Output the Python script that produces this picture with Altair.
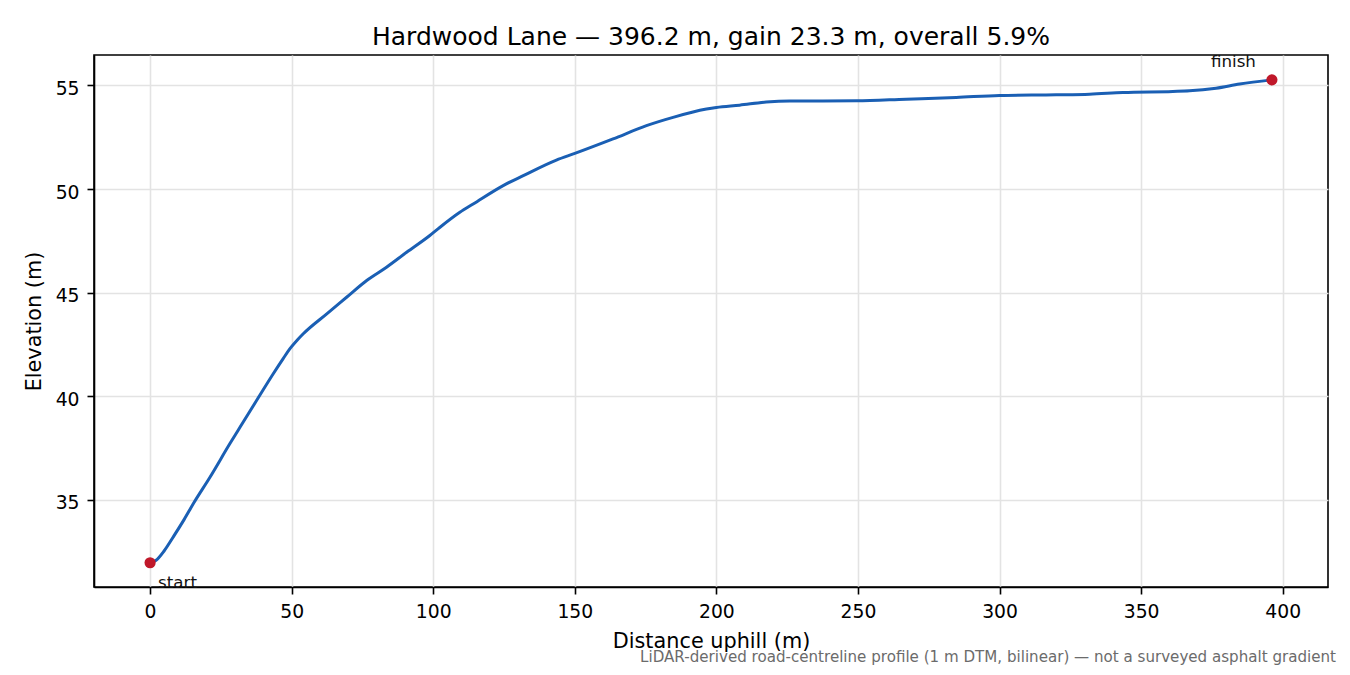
import altair as alt
import pandas as pd

# profile samples (distance m, elevation m)
dist_m = [0, 2, 5, 8.2, 12, 15.3, 21.2, 28.2, 31.8, 37.6, 43.5, 47, 49.4, 52, 54.1,
          62.4, 69.4, 76.5, 83.5, 90.6, 98.8, 102.4, 109.4, 114.1, 124.7, 131.8,
          143.5, 150, 163.5, 175.3, 184.7, 196.5, 200, 208.2, 217.6, 225.9, 237.6,
          249.4, 267, 284.7, 300, 320, 331.8, 343.6, 361.2, 367.1, 376.5, 384.8,
          396.2]
elev_m = [31.97, 32.08, 32.55, 33.22, 34.05, 34.83, 36.11, 37.72, 38.52, 39.8,
          41.09, 41.82, 42.3, 42.72, 43.02, 43.98, 44.78, 45.59, 46.23, 46.95,
          47.76, 48.16, 48.88, 49.28, 50.17, 50.65, 51.4, 51.72, 52.42, 53.06,
          53.46, 53.86, 53.94, 54.05, 54.2, 54.25, 54.25, 54.26, 54.34, 54.42,
          54.52, 54.55, 54.58, 54.66, 54.71, 54.74, 54.87, 55.07, 55.27]

end_dist = [0, 396.2]
end_elev = [31.97, 55.27]
end_label = ["start", "finish"]

x_ticks = [0, 50, 100, 150, 200, 250, 300, 350, 400]
y_ticks = [35, 40, 45, 50, 55]

title = "Hardwood Lane \u2014 396.2 m, gain 23.3 m, overall 5.9%"
note = ("LiDAR-derived road-centreline profile (1 m DTM, bilinear) \u2014 "
        "not a surveyed asphalt gradient")

FONT = "DejaVu Sans"
W, H = 1234, 532

profile = pd.DataFrame({"dist": dist_m, "elev": elev_m})
ends = pd.DataFrame({"dist": end_dist, "elev": end_elev, "label": end_label})

x_enc = alt.X("dist:Q", title="Distance uphill (m)",
              scale=alt.Scale(domain=[-19.81, 416.01], nice=False, zero=False),
              axis=alt.Axis(values=x_ticks, titleY=60, titleBaseline="alphabetic"))
y_enc = alt.Y("elev:Q", title="Elevation (m)",
              scale=alt.Scale(domain=[30.80, 56.47], nice=False, zero=False),
              axis=alt.Axis(values=y_ticks, labelOffset=3, titleX=-54,
                            titleY=H / 2, titleAngle=270,
                            titleBaseline="alphabetic", titleAlign="center"))

line = alt.Chart(profile).mark_line(
    color="#1a5fb4", strokeWidth=3, interpolate="monotone"
).encode(x=x_enc, y=y_enc)

dots = alt.Chart(ends).mark_circle(color="#c0182a", size=125, opacity=1).encode(
    x="dist:Q", y="elev:Q"
)

start_txt = alt.Chart(ends).transform_filter(alt.datum.label == "start").mark_text(
    align="left", baseline="alphabetic", dx=8, dy=25, font=FONT, fontSize=16.7,
    color="#111"
).encode(x="dist:Q", y="elev:Q", text="label:N")

finish_txt = alt.Chart(ends).transform_filter(alt.datum.label == "finish").mark_text(
    align="right", baseline="alphabetic", dx=-16, dy=-12.5, font=FONT, fontSize=16.7,
    color="#111"
).encode(x="dist:Q", y="elev:Q", text="label:N")

footnote = alt.Chart(pd.DataFrame({"note": [note]})).mark_text(
    align="right", baseline="alphabetic", font=FONT, fontSize=15.1, color="#6b6b6b"
).encode(x=alt.value(W + 8), y=alt.value(H + 75), text="note:N")

chart = (line + dots + start_txt + finish_txt + footnote).properties(
    width=W, height=H,
    title=alt.TitleParams(title, anchor="middle", font=FONT, fontSize=25,
                          fontWeight="normal", color="#000", baseline="alphabetic",
                          offset=-16),
    autosize=alt.AutoSizeParams(type="none"),
    padding={"left": 86, "top": 47, "right": 14, "bottom": 80},
).configure(
    font=FONT
).configure_view(
    stroke="#000", strokeWidth=1.6
).configure_axis(
    labelFont=FONT, titleFont=FONT,
    labelFontSize=18.75, titleFontSize=20.8, titleFontWeight="normal",
    labelColor="#000", titleColor="#000",
    domainColor="#000", domainWidth=1.6,
    tickColor="#000", tickWidth=1.6, tickSize=7, labelPadding=8,
    gridColor="#e3e3e3", gridWidth=1.6, labelFlush=False
)

chart.save("out.html", embed_options={"renderer": "svg", "actions": False})
